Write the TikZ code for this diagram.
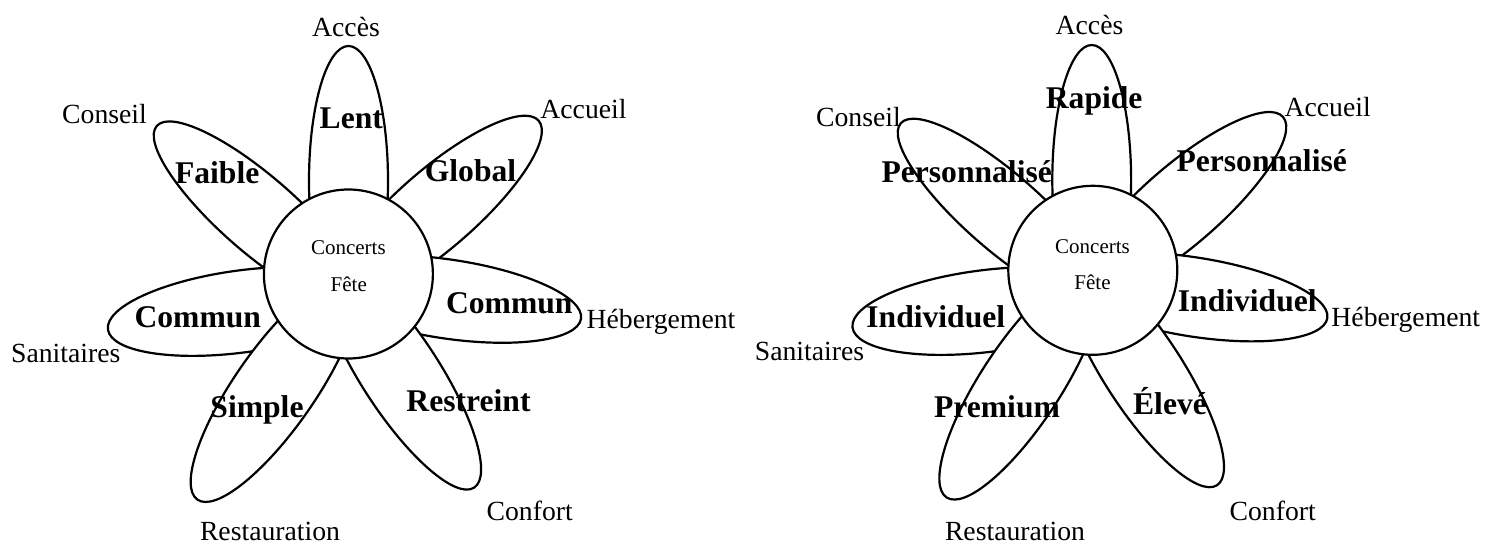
\documentclass[tikz,border=0pt]{standalone}
\usepackage{fontspec}
\setmainfont{Liberation Serif}
\usetikzlibrary{calc}
\def\flowerpetal(#1)(#2:#3){\draw[petal, rotate around={#2:(#1)}] (#1) ellipse [x radius=\plen, y radius=#3];}
\tikzset{
	petal/.style={line width=1.1pt, fill=white},
	hub/.style={circle, draw, line width=1.1pt, fill=white, minimum size=84.5pt, inner sep=0pt},
	hubtext/.style={anchor=base, inner sep=0pt, font=\fontsize{10.5}{12}\selectfont},
	tag/.style={anchor=base, inner sep=0pt, font=\fontsize{13.85}{16}\selectfont},
	grade/.style={anchor=base, inner sep=0pt, font=\fontsize{15.8}{19}\selectfont\bfseries}
}

\begin{document}
\begin{tikzpicture}[x=0.5pt,y=-0.5pt]
			%%%%% START %%%%%
			\def\plen{135}
			\useasboundingbox (0,0) rectangle (1487,544);
			
			%% left flower
			\flowerpetal(348.5,181)(90:39.5)
			\flowerpetal(258.5,214.7)(138.9:38)
			\flowerpetal(436.7,209.2)(41:39.5)
			\flowerpetal(447.5,299)(-8.4:39.5)
			\flowerpetal(400.6,374.4)(-57:39)
			\flowerpetal(241.7,311.4)(7.7:41)
			\flowerpetal(274.6,388.9)(55.1:40)
			\node[hub] (hubL) at (348.4,274) {};
			\node[hubtext] (concertsL) at (348.4,255) {Concerts};
			\node[hubtext] (feteL) at (348.8,292) {Fête};
			
			\node[tag] (accesL) at (346,36.5) {Accès};
			\node[tag] (conseilL) at (104.5,124) {Conseil};
			\node[tag] (accueilL) at (583.5,118.3) {Accueil};
			\node[tag] (hebergementL) at (661,328.5) {Hébergement};
			\node[tag] (sanitairesL) at (65.8,362.5) {Sanitaires};
			\node[tag] (restaurationL) at (270,540.5) {Restauration};
			\node[tag] (confortL) at (529.7,520) {Confort};
			
			\node[grade] (lent) at (351.3,128.3) {Lent};
			\node[grade] (faible) at (217.2,183.3) {Faible};
			\node[grade] (global) at (470.5,181.7) {Global};
			\node[grade] (communE) at (509.3,313.3) {Commun};
			\node[grade] (communW) at (197.8,327.3) {Commun};
			\node[grade] (simple) at (257,418) {Simple};
			\node[grade] (restreint) at (468.5,411.3) {Restreint};
			
			%% right flower
			\flowerpetal(1091.7,180)(90:39.4)
			\flowerpetal(1002.5,212)(138.9:38)
			\flowerpetal(1181.1,205.5)(41:39.5)
			\flowerpetal(1194,297)(-9:39.5)
			\flowerpetal(1143.5,372)(-57:39)
			\flowerpetal(986.5,311)(7:41)
			\flowerpetal(1020.5,384.5)(56.8:40)
			\node[hub] (hubR) at (1092.8,270.3) {};
			\node[hubtext] (concertsR) at (1092.5,253.3) {Concerts};
			\node[hubtext] (feteR) at (1092.5,290) {Fête};
			
			\node[tag] (accesR) at (1089.5,34.5) {Accès};
			\node[tag] (conseilR) at (858.4,127) {Conseil};
			\node[tag] (accueilR) at (1327.6,116.7) {Accueil};
			\node[tag] (hebergementR) at (1405.8,327) {Hébergement};
			\node[tag] (sanitairesR) at (809.5,361) {Sanitaires};
			\node[tag] (restaurationR) at (1015,540.5) {Restauration};
			\node[tag] (confortR) at (1272.7,520) {Confort};
			
			\node[grade] (rapide) at (1094.2,108.3) {Rapide};
			\node[grade] (persoW) at (966.7,182.3) {Personnalisé};
			\node[grade] (persoE) at (1261.7,171.7) {Personnalisé};
			\node[grade] (indivE) at (1247.3,311.7) {Individuel};
			\node[grade] (indivW) at (935.8,327.3) {Individuel};
			\node[grade] (premium) at (997,418) {Premium};
			\node[grade] (eleve) at (1170,414.7) {Élevé};
			%%%%% END %%%%%
\end{tikzpicture}
\end{document}
